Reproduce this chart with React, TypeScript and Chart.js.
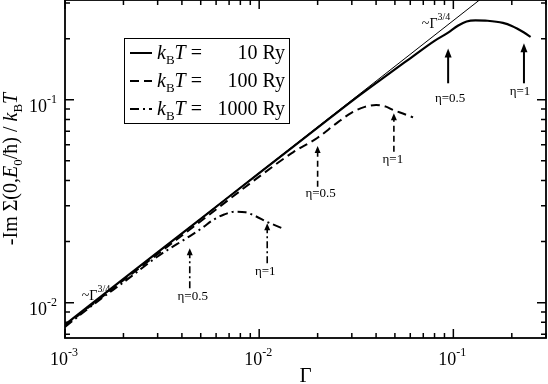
import React, { useEffect, useRef } from 'react';
import { Chart, registerables } from 'chart.js';

Chart.register(...registerables);

// ---- data ----
const powerLawGamma = [0.001, 0.3];
const powerLawSigma = [0.00777, 0.56];

const gamma10 = [0.001, 0.002, 0.005, 0.01, 0.02, 0.03, 0.042, 0.06, 0.08, 0.094, 0.106, 0.117, 0.13, 0.15, 0.18, 0.2, 0.23, 0.25];
const sigma10 = [0.0078, 0.0131, 0.0259, 0.0435, 0.0728, 0.0985, 0.125, 0.16, 0.195, 0.214, 0.232, 0.243, 0.246, 0.245, 0.239, 0.231, 0.215, 0.204];

const gamma100 = [0.001, 0.002, 0.005, 0.01, 0.015, 0.02, 0.025, 0.03, 0.035, 0.04, 0.045, 0.049, 0.055, 0.062];
const sigma100 = [0.0077, 0.0129, 0.0252, 0.0418, 0.0552, 0.065, 0.0765, 0.0865, 0.0922, 0.0943, 0.0925, 0.089, 0.0855, 0.0819];

const gamma1000 = [0.001, 0.0015, 0.002, 0.003, 0.0044, 0.0051, 0.0058, 0.0066, 0.0075, 0.0085, 0.0095, 0.011, 0.0131];
const sigma1000 = [0.0076, 0.0103, 0.0126, 0.0169, 0.0213, 0.0234, 0.0256, 0.0272, 0.0281, 0.0279, 0.0268, 0.025, 0.0233];

const legendValues = ['10', '100', '1000'];

const arrowGamma = [0.094, 0.231, 0.02, 0.0494, 0.00439, 0.011];
const arrowTip = [0.179, 0.19, 0.0591, 0.0857, 0.01853, 0.0246];
const arrowTail = [0.1205, 0.1205, 0.0373, 0.0554, 0.01177, 0.01563];
const arrowLabelY = [0.1016, 0.1095, 0.0343, 0.0505, 0.0107, 0.01421];
const arrowLabelDx = [2, -4, 3, -1, 3, -2];
const arrowText = ['η=0.5', 'η=1', 'η=0.5', 'η=1', 'η=0.5', 'η=1'];
const arrowSeries = [0, 0, 1, 1, 2, 2];

const powerLabelGamma = [0.0688, 0.00122];
const powerLabelSigma = [0.2256, 0.01031];

const xMajor = [0.001, 0.01, 0.1];
const xMinor = [0.002, 0.003, 0.004, 0.005, 0.006, 0.007, 0.008, 0.009, 0.02, 0.03, 0.04, 0.05, 0.06, 0.07, 0.08, 0.09, 0.2, 0.3];
const yMajor = [0.01, 0.1];
const yMinor = [0.007, 0.008, 0.009, 0.02, 0.03, 0.04, 0.05, 0.06, 0.07, 0.08, 0.09, 0.2, 0.3];

// ---- style ----
const FONT = "'Liberation Serif', 'Times New Roman', serif";
const seriesDash = [[], [9, 5], [9, 4, 2, 4]];
const arrowDash = [[], [6, 4], [7, 3, 2, 3]];

type Seg = { t: string; size: number; italic?: boolean; dy?: number };

function setFont(ctx: CanvasRenderingContext2D, s: Seg) {
  ctx.font = `${s.italic ? 'italic ' : ''}${s.size}px ${FONT}`;
}
function richWidth(ctx: CanvasRenderingContext2D, segs: Seg[]) {
  let w = 0;
  for (const s of segs) {
    setFont(ctx, s);
    w += ctx.measureText(s.t).width;
  }
  return w;
}
function drawRich(ctx: CanvasRenderingContext2D, segs: Seg[], x: number, y: number) {
  let cx = x;
  for (const s of segs) {
    setFont(ctx, s);
    ctx.fillText(s.t, cx, y + (s.dy || 0));
    cx += ctx.measureText(s.t).width;
  }
}
function pow10Segs(v: number, size: number, sup: number): Seg[] {
  const e = Math.round(Math.log10(v));
  return [
    { t: '10', size },
    { t: String(e), size: sup, dy: -9 },
  ];
}

const decorPlugin = {
  id: 'decor',
  afterDatasetsDraw(chart: any) {
    const ctx: CanvasRenderingContext2D = chart.ctx;
    const xs = chart.scales.x;
    const ys = chart.scales.y;
    const { left, right, top, bottom } = chart.chartArea;
    ctx.save();
    ctx.fillStyle = '#000';
    ctx.strokeStyle = '#000';
    ctx.textAlign = 'left';
    ctx.textBaseline = 'alphabetic';

    // frame
    ctx.lineWidth = 1.8;
    ctx.setLineDash([]);
    ctx.strokeRect(left, top, right - left, bottom - top);

    // ticks (inward on all four sides)
    ctx.lineWidth = 1.5;
    const tick = (vals: number[], len: number) => {
      for (const v of vals) {
        const px = xs.getPixelForValue(v);
        ctx.beginPath();
        ctx.moveTo(px, bottom);
        ctx.lineTo(px, bottom - len);
        ctx.moveTo(px, top);
        ctx.lineTo(px, top + len);
        ctx.stroke();
      }
    };
    const ticky = (vals: number[], len: number) => {
      for (const v of vals) {
        const py = ys.getPixelForValue(v);
        ctx.beginPath();
        ctx.moveTo(left, py);
        ctx.lineTo(left + len, py);
        ctx.moveTo(right, py);
        ctx.lineTo(right - len, py);
        ctx.stroke();
      }
    };
    tick(xMajor, 9);
    tick(xMinor, 5);
    ticky(yMajor, 9);
    ticky(yMinor, 5);

    // tick labels
    for (const v of xMajor) {
      const segs = pow10Segs(v, 18, 12);
      const w = richWidth(ctx, segs);
      drawRich(ctx, segs, xs.getPixelForValue(v) - w / 2 - 1, 365);
    }
    for (const v of yMajor) {
      const segs = pow10Segs(v, 18, 12);
      const w = richWidth(ctx, segs);
      drawRich(ctx, segs, 57 - w, ys.getPixelForValue(v) + 12);
    }

    // x title
    {
      const segs: Seg[] = [{ t: 'Γ', size: 21 }];
      const w = richWidth(ctx, segs);
      drawRich(ctx, segs, (left + right) / 2 - w / 2, 382);
    }
    // y title (rotated)
    {
      const segs: Seg[] = [
        { t: '-Im Σ(0,', size: 20 },
        { t: 'E', size: 20, italic: true },
        { t: '0', size: 13, dy: 5 },
        { t: '/ħ) / ', size: 20 },
        { t: 'k', size: 20, italic: true },
        { t: 'B', size: 13, dy: 5 },
        { t: 'T', size: 20, italic: true },
      ];
      const w = richWidth(ctx, segs);
      ctx.save();
      ctx.translate(17, (top + bottom) / 2);
      ctx.rotate(-Math.PI / 2);
      drawRich(ctx, segs, -w / 2, 0);
      ctx.restore();
    }

    // power law labels
    for (let i = 0; i < powerLabelGamma.length; i++) {
      const px = xs.getPixelForValue(powerLabelGamma[i]);
      const py = ys.getPixelForValue(powerLabelSigma[i]);
      drawRich(ctx, [
        { t: '~Γ', size: 14 },
        { t: '3/4', size: 10, dy: -8 },
      ], px, py);
    }

    // arrows
    for (let i = 0; i < arrowGamma.length; i++) {
      const s = arrowSeries[i];
      const px = xs.getPixelForValue(arrowGamma[i]);
      const pTip = ys.getPixelForValue(arrowTip[i]);
      const pTail = ys.getPixelForValue(arrowTail[i]);
      const headL = s === 0 ? 9 : 7;
      const headW = s === 0 ? 3.5 : 3;
      ctx.lineWidth = s === 0 ? 2 : 1.6;
      ctx.setLineDash(arrowDash[s]);
      ctx.beginPath();
      ctx.moveTo(px, pTail);
      ctx.lineTo(px, pTip + headL - 1);
      ctx.stroke();
      ctx.setLineDash([]);
      ctx.beginPath();
      ctx.moveTo(px, pTip);
      ctx.lineTo(px - headW, pTip + headL);
      ctx.lineTo(px + headW, pTip + headL);
      ctx.closePath();
      ctx.fill();
      const segs: Seg[] = [{ t: arrowText[i], size: 13 }];
      const w = richWidth(ctx, segs);
      ctx.textBaseline = 'middle';
      drawRich(ctx, segs, px - w / 2 + arrowLabelDx[i], ys.getPixelForValue(arrowLabelY[i]));
      ctx.textBaseline = 'alphabetic';
    }

    // legend
    const bx = 124, by = 38, bw = 165, bh = 85;
    ctx.lineWidth = 1;
    ctx.setLineDash([]);
    ctx.fillStyle = '#fff';
    ctx.fillRect(bx, by, bw, bh);
    ctx.fillStyle = '#000';
    ctx.strokeRect(bx + 0.5, by + 0.5, bw, bh);
    for (let i = 0; i < legendValues.length; i++) {
      const ry = 53 + i * 28;
      ctx.lineWidth = 2;
      ctx.setLineDash(seriesDash[i]);
      ctx.beginPath();
      ctx.moveTo(130, ry);
      ctx.lineTo(152, ry);
      ctx.stroke();
      ctx.setLineDash([]);
      drawRich(ctx, [
        { t: 'k', size: 20, italic: true },
        { t: 'B', size: 13, dy: 5 },
        { t: 'T', size: 20, italic: true },
        { t: ' =', size: 20 },
      ], 157, ry + 6);
      const segs: Seg[] = [{ t: legendValues[i] + ' Ry', size: 20 }];
      const w = richWidth(ctx, segs);
      drawRich(ctx, segs, 285 - w, ry + 6);
    }
    ctx.restore();
  },
};

function pts(xs: number[], ys: number[]) {
  return xs.map((x, i) => ({ x, y: ys[i] }));
}

export default function App() {
  const ref = useRef<HTMLCanvasElement | null>(null);
  useEffect(() => {
    if (!ref.current) return;
    const chart = new Chart(ref.current, {
      type: 'scatter',
      data: {
        datasets: [
          { data: pts(powerLawGamma, powerLawSigma), showLine: true, borderColor: '#000', borderWidth: 1, pointRadius: 0 },
          { data: pts(gamma10, sigma10), showLine: true, borderColor: '#000', borderWidth: 2.2, pointRadius: 0, cubicInterpolationMode: 'monotone', borderDash: seriesDash[0] },
          { data: pts(gamma100, sigma100), showLine: true, borderColor: '#000', borderWidth: 2, pointRadius: 0, cubicInterpolationMode: 'monotone', borderDash: seriesDash[1] },
          { data: pts(gamma1000, sigma1000), showLine: true, borderColor: '#000', borderWidth: 2, pointRadius: 0, cubicInterpolationMode: 'monotone', borderDash: seriesDash[2] },
        ] as any,
      },
      options: {
        animation: false,
        responsive: false,
        devicePixelRatio: 1,
        layout: { padding: { left: 0, right: 2, top: 0, bottom: 0 } },
        plugins: { legend: { display: false }, tooltip: { enabled: false } },
        scales: {
          x: {
            type: 'logarithmic', min: 0.001, max: 0.3,
            ticks: { display: false }, grid: { display: false }, border: { display: false },
            afterFit: (s: any) => { s.height = 46; },
          },
          y: {
            type: 'logarithmic', min: 0.0067, max: 0.31,
            ticks: { display: false }, grid: { display: false }, border: { display: false },
            afterFit: (s: any) => { s.width = 65; },
          },
        },
      } as any,
      plugins: [decorPlugin],
    });
    return () => chart.destroy();
  }, []);
  return (
    <div style={{ position: 'fixed', left: 0, top: 0, width: 548, height: 384, background: '#fff' }}>
      <canvas ref={ref} width={548} height={384} style={{ display: 'block', width: 548, height: 384 }} />
    </div>
  );
}
